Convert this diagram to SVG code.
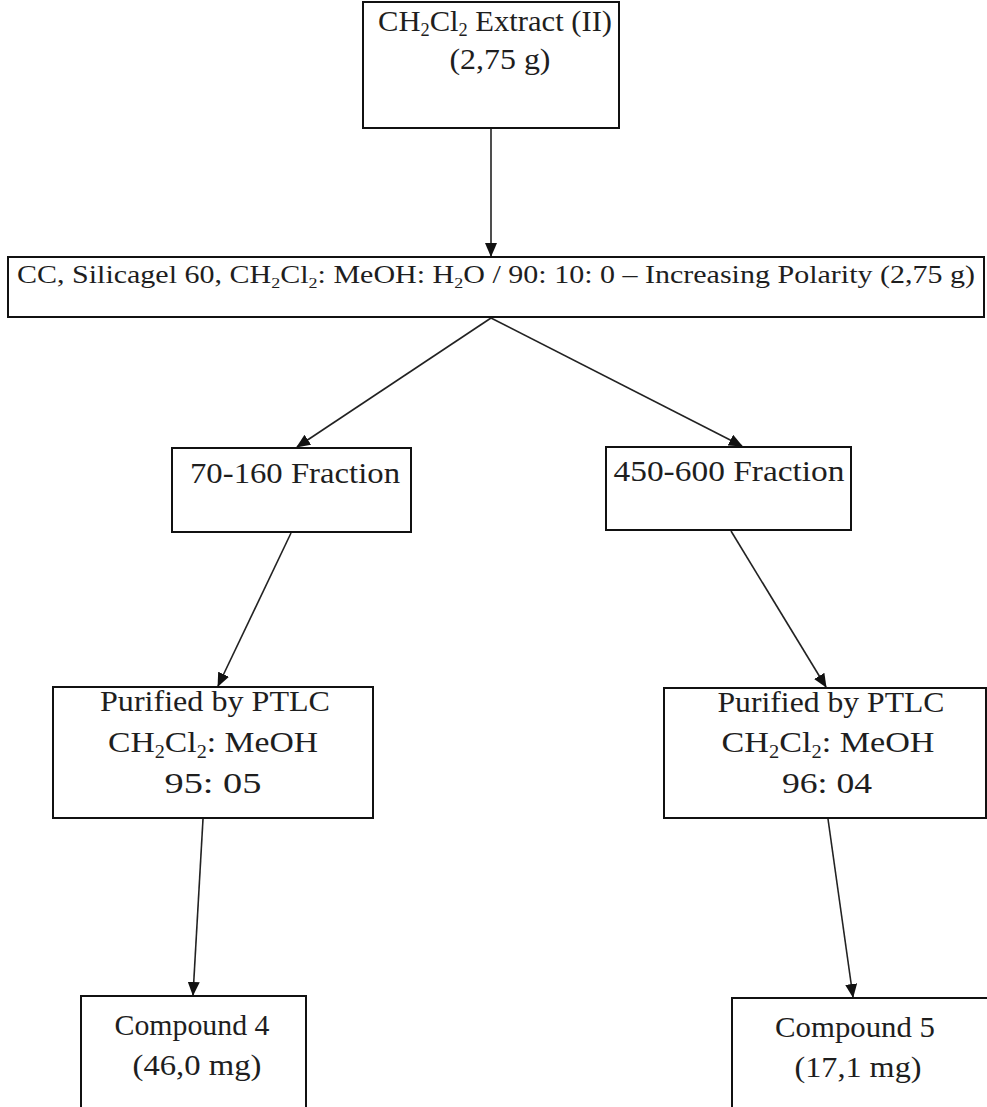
<svg xmlns="http://www.w3.org/2000/svg" width="987" height="1107" viewBox="0 0 987 1107">
<style>
.box{fill:#fff;stroke:#111;stroke-width:2}
.t{font-family:"Liberation Serif","Times New Roman",serif;font-size:30px;fill:#1e1e1e;text-anchor:middle}
.s{font-size:18px}
.c{stroke:#222;stroke-width:1.6;fill:none}
</style>
<defs>
<marker id="ah" markerUnits="userSpaceOnUse" markerWidth="14" markerHeight="12" refX="13" refY="6" orient="auto">
<path d="M0,0 L14,6 L0,12 Z" fill="#111"/>
</marker>
</defs>
<rect width="987" height="1107" fill="#fff"/>
<g id="connectors">
<line class="c" x1="491" y1="128" x2="491" y2="256" marker-end="url(#ah)"/>
<line class="c" x1="491" y1="318" x2="297" y2="447" marker-end="url(#ah)"/>
<line class="c" x1="491" y1="318" x2="742" y2="446" marker-end="url(#ah)"/>
<line class="c" x1="291" y1="533" x2="218" y2="686" marker-end="url(#ah)"/>
<line class="c" x1="731" y1="531" x2="826" y2="687" marker-end="url(#ah)"/>
<line class="c" x1="203" y1="819" x2="193" y2="995" marker-end="url(#ah)"/>
<line class="c" x1="828" y1="819" x2="853" y2="997" marker-end="url(#ah)"/>
</g>
<g id="n1">
<rect class="box" x="363" y="2" width="256" height="126"/>
<text class="t" x="495" y="31" textLength="234" lengthAdjust="spacingAndGlyphs">CH<tspan class="s" dy="5">2</tspan><tspan dy="-5">Cl</tspan><tspan class="s" dy="5">2</tspan><tspan dy="-5"> Extract (II)</tspan></text>
<text class="t" x="500" y="69" textLength="101" lengthAdjust="spacingAndGlyphs">(2,75 g)</text>
</g>
<g id="n2">
<rect class="box" x="8" y="257" width="976" height="60"/>
<text class="t" x="496" y="283" style="font-size:25px" textLength="958" lengthAdjust="spacingAndGlyphs">CC, Silicagel 60, CH<tspan class="s" style="font-size:15px" dy="5">2</tspan><tspan dy="-5">Cl</tspan><tspan class="s" style="font-size:15px" dy="5">2</tspan><tspan dy="-5">: MeOH: H</tspan><tspan class="s" style="font-size:15px" dy="5">2</tspan><tspan dy="-5">O / 90: 10: 0 – Increasing Polarity  (2,75 g)</tspan></text>
</g>
<g id="n3">
<rect class="box" x="172" y="448" width="239" height="84"/>
<text class="t" x="295" y="483" textLength="210" lengthAdjust="spacingAndGlyphs">70-160 Fraction</text>
</g>
<g id="n4">
<rect class="box" x="606" y="447" width="245" height="83"/>
<text class="t" x="729" y="481" textLength="231" lengthAdjust="spacingAndGlyphs">450-600 Fraction</text>
</g>
<g id="n5">
<rect class="box" x="53" y="687" width="320" height="131"/>
<text class="t" x="215" y="711" textLength="230" lengthAdjust="spacingAndGlyphs">Purified by PTLC</text>
<text class="t" x="213" y="752" textLength="210" lengthAdjust="spacingAndGlyphs">CH<tspan class="s" dy="6">2</tspan><tspan dy="-6">Cl</tspan><tspan class="s" dy="6">2</tspan><tspan dy="-6">: MeOH</tspan></text>
<text class="t" x="213" y="793" textLength="97" lengthAdjust="spacingAndGlyphs">95: 05</text>
</g>
<g id="n6">
<rect class="box" x="664" y="688" width="322" height="130"/>
<text class="t" x="831" y="712" textLength="227" lengthAdjust="spacingAndGlyphs">Purified by PTLC</text>
<text class="t" x="828" y="752" textLength="213" lengthAdjust="spacingAndGlyphs">CH<tspan class="s" dy="6">2</tspan><tspan dy="-6">Cl</tspan><tspan class="s" dy="6">2</tspan><tspan dy="-6">: MeOH</tspan></text>
<text class="t" x="827" y="793" textLength="90" lengthAdjust="spacingAndGlyphs">96: 04</text>
</g>
<g id="n7">
<rect class="box" x="81" y="996" width="225" height="130"/>
<text class="t" x="192" y="1035" textLength="155" lengthAdjust="spacingAndGlyphs">Compound 4</text>
<text class="t" x="197" y="1075" textLength="129" lengthAdjust="spacingAndGlyphs">(46,0 mg)</text>
</g>
<g id="n8">
<rect class="box" x="732" y="998" width="262" height="130"/>
<text class="t" x="855" y="1037" textLength="160" lengthAdjust="spacingAndGlyphs">Compound 5</text>
<text class="t" x="858" y="1077" textLength="127" lengthAdjust="spacingAndGlyphs">(17,1 mg)</text>
</g>
</svg>
